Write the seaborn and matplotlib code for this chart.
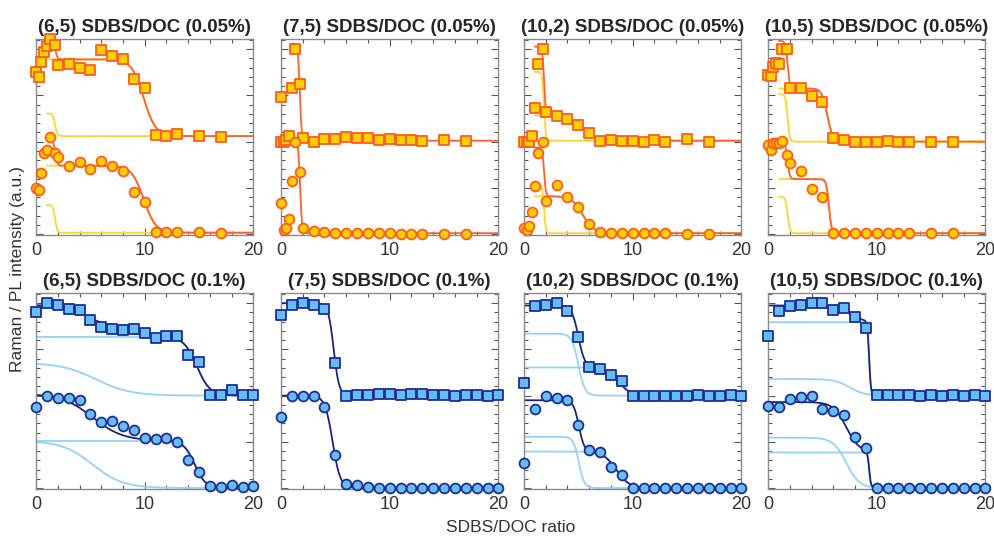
import numpy as np
import pandas as pd
import matplotlib
matplotlib.use("Agg")
import matplotlib.pyplot as plt
import seaborn as sns
from matplotlib.ticker import MultipleLocator

# ---- data ----
titles_top = ["(6,5) SDBS/DOC (0.05%)", "(7,5) SDBS/DOC (0.05%)",
              "(10,2) SDBS/DOC (0.05%)", "(10,5) SDBS/DOC (0.05%)"]
titles_bottom = ["(6,5) SDBS/DOC (0.1%)", "(7,5) SDBS/DOC (0.1%)",
                 "(10,2) SDBS/DOC (0.1%)", "(10,5) SDBS/DOC (0.1%)"]

x_low = [0, 0.25, 0.5, 0.75, 1, 1.25, 1.75, 2, 3, 4, 5, 6, 7, 8, 9, 10, 11, 12, 13, 15, 17]
x_low_extra = [0, 0, 0.25, 0.5, 0.75, 1, 1.25, 1.75, 2, 3, 4, 5, 6, 7, 8, 9, 10, 11, 12, 13, 15, 17]
x_high = list(range(21))

# 0.05 % : squares (Raman, offset by 2) and circles (PL)
sq_65_low = [3.51, 3.40, 3.73, 3.94, 4.06, 4.21, 4.10, 3.65, 3.69, 3.59, 3.56, 3.99, 3.85, 3.78,
             3.35, 3.17, 2.14, 2.12, 2.17, 2.12, 2.11]
ci_65_low = [0.99, 0.96, 1.33, 1.75, 1.82, 2.11, 1.75, 1.66, 1.48, 1.55, 1.40, 1.59, 1.48, 1.37,
             0.90, 0.69, 0.04, 0.04, 0.04, 0.04, 0.03]
sq_75_low = [2.97, 2.00, 2.00, 2.04, 2.12, 3.17, 4.01, 3.24, 2.08, 2.00, 2.06, 2.05, 2.09, 2.07,
             2.07, 2.03, 2.05, 2.03, 2.03, 2.01, 2.03, 2.01]
ci_75_low = [0.68, 0.09, 0.13, 0.32, 1.14, 2.00, 1.35, 0.14, 0.07, 0.04, 0.02, 0.03, 0.03, 0.02,
             0.02, 0.02, 0.01, 0.01, 0.01, 0.01, 0.01]
sq_102_low = [2.00, 2.00, 2.00, 2.12, 2.73, 3.69, 4.01, 2.65, 2.56, 2.49, 2.36, 2.19, 2.02, 2.04,
              2.01, 2.02, 2.00, 2.04, 2.00, 2.06, 2.00]
ci_102_low = [0.13, 0.09, 0.17, 0.47, 1.04, 1.76, 2.00, 0.71, 1.06, 0.80, 0.58, 0.22, 0.04, 0.02,
              0.02, 0.02, 0.02, 0.02, 0.02, 0.01, 0.01]
sq_105_low = [3.44, 3.42, 3.62, 3.71, 3.69, 4.00, 4.01, 3.17, 3.15, 2.99, 2.85, 2.07, 2.04, 2.00,
              2.00, 2.00, 2.02, 2.00, 2.00, 2.00, 2.00]
ci_105_low = [1.93, 1.82, 1.98, 1.96, 1.96, 2.01, 1.71, 1.53, 1.37, 0.97, 0.80, 0.02, 0.02, 0.02,
              0.02, 0.02, 0.02, 0.02, 0.02, 0.02, 0.02]

# 0.1 %
sq_65_high = [3.81, 4.00, 3.95, 3.88, 3.86, 3.63, 3.49, 3.45, 3.43, 3.44, 3.36, 3.24, 3.30, 3.29,
              2.88, 2.72, 2.01, 2.01, 2.13, 2.01, 2.01]
ci_65_high = [1.75, 2.00, 1.95, 1.95, 1.91, 1.61, 1.43, 1.46, 1.34, 1.26, 1.09, 1.07, 1.09, 0.99,
              0.61, 0.34, 0.04, 0.02, 0.06, 0.02, 0.04]
sq_75_high = [3.75, 3.96, 4.00, 3.96, 3.88, 2.70, 2.00, 2.01, 2.01, 2.04, 2.04, 2.02, 2.04, 2.04,
              2.02, 2.02, 2.00, 2.01, 2.01, 2.00, 2.01]
ci_75_high = [1.54, 1.99, 1.99, 2.00, 1.75, 0.71, 0.09, 0.06, 0.02, 0.01, 0.01, 0.01, 0.01, 0.01,
              0.01, 0.01, 0.01, 0.01, 0.01, 0.01, 0.01]
sq_102_high = [2.27, 3.93, 3.96, 4.00, 3.83, 3.26, 2.61, 2.57, 2.44, 2.31, 2.00, 2.00, 2.00, 2.00,
               2.00, 2.00, 2.01, 2.00, 2.00, 2.01, 2.00]
ci_102_high = [0.54, 1.72, 2.00, 1.95, 1.90, 1.36, 0.82, 0.77, 0.45, 0.29, 0.00, 0.00, 0.00, 0.00,
               0.00, 0.00, 0.00, 0.00, 0.00, 0.00, 0.00]
sq_105_high = [3.29, 3.84, 3.94, 3.96, 4.00, 4.00, 3.86, 3.90, 3.70, 3.47, 2.01, 2.01, 2.01, 2.01,
               2.00, 2.01, 2.00, 2.01, 2.00, 2.01, 2.00]
ci_105_high = [1.77, 1.75, 1.93, 1.96, 2.00, 1.72, 1.66, 1.59, 1.11, 0.86, 0.00, 0.00, 0.00, 0.00,
               0.00, 0.00, 0.00, 0.00, 0.00, 0.00, 0.00]

# fit parameters: baseline, then (amplitude, centre, width) per component
fit_sq_65_low = [2.12, (0.49, 1.75, 0.10), (1.66, 9.9, 0.55)]
fit_ci_65_low = [0.03, (0.60, 1.75, 0.10), (1.45, 9.9, 0.55)]
fit_sq_75_low = [2.02, (2.10, 1.73, 0.085)]
fit_ci_75_low = [0.02, (2.00, 1.76, 0.085)]
fit_sq_102_low = [2.02, (1.49, 1.85, 0.08), (0.55, 5.2, 0.80)]
fit_ci_102_low = [0.02, (1.05, 1.85, 0.08), (0.80, 5.4, 0.50)]
fit_sq_105_low = [2.00, (1.03, 1.80, 0.10), (1.15, 5.45, 0.25)]
fit_ci_105_low = [0.02, (0.79, 1.80, 0.10), (1.17, 5.6, 0.12)]

fit_sq_65_high = [2.00, (1.27, 14.8, 0.6), (0.71, 5.5, 1.6)]
fit_ci_65_high = [0.00, (1.02, 14.6, 0.5), (1.02, 5.2, 1.4)]
fit_sq_75_high = [2.00, (2.00, 4.85, 0.25)]
fit_ci_75_high = [0.00, (2.00, 4.75, 0.35)]
fit_sq_102_high = [2.00, (1.34, 5.0, 0.30), (0.61, 8.7, 0.55)]
fit_ci_102_high = [0.00, (1.11, 5.05, 0.25), (0.79, 8.5, 0.60)]
fit_sq_105_high = [2.00, (1.59, 9.3, 0.08), (0.36, 7.5, 0.70)]
fit_ci_105_high = [0.00, (0.77, 9.3, 0.08), (1.09, 7.2, 0.60)]

top_panels = [
    (x_low, sq_65_low, x_low, ci_65_low, fit_sq_65_low, fit_ci_65_low),
    (x_low_extra, sq_75_low, x_low, ci_75_low, fit_sq_75_low, fit_ci_75_low),
    (x_low, sq_102_low, x_low, ci_102_low, fit_sq_102_low, fit_ci_102_low),
    (x_low, sq_105_low, x_low, ci_105_low, fit_sq_105_low, fit_ci_105_low),
]
bottom_panels = [
    (x_high, sq_65_high, x_high, ci_65_high, fit_sq_65_high, fit_ci_65_high),
    (x_high, sq_75_high, x_high, ci_75_high, fit_sq_75_high, fit_ci_75_high),
    (x_high, sq_102_high, x_high, ci_102_high, fit_sq_102_high, fit_ci_102_high),
    (x_high, sq_105_high, x_high, ci_105_high, fit_sq_105_high, fit_ci_105_high),
]

top_style = dict(face="#FFD000", edge="#FF5A1F", fit="#FF6030", comp="#FFD530", x0=1.0)
bottom_style = dict(face="#63BEF2", edge="#1F2C99", fit="#1B2580", comp="#95D3F6", x0=0.0)


def boltz(x, a, c, w):
    return a / (1.0 + np.exp((x - c) / w))


sns.set_style("ticks")
plt.rcParams["font.family"] = ["Liberation Sans", "DejaVu Sans"]

fig = plt.figure(figsize=(9.95, 5.39), dpi=100)

lefts = [0.0362, 0.2824, 0.5266, 0.7719]
width = 0.2185
rows = [(0.564, top_panels, titles_top, top_style),
        (0.0928, bottom_panels, titles_bottom, bottom_style)]

for bottom, panels, titles, st in rows:
    for left, panel, title in zip(lefts, panels, titles):
        ax = fig.add_axes([left, bottom, width, 0.3636])
        xs_sq, ys_sq, xs_ci, ys_ci, fit_sq, fit_ci = panel
        xf = np.linspace(st["x0"], 20, 500)
        for fit in (fit_sq, fit_ci):
            base, comps = fit[0], fit[1:]
            total = base + sum(boltz(xf, *p) for p in comps)
            if len(comps) > 1:
                for p in comps:
                    sns.lineplot(x=xf, y=base + boltz(xf, *p), ax=ax, color=st["comp"],
                                 lw=1.3, sort=False, estimator=None, zorder=1)
            sns.lineplot(x=xf, y=total, ax=ax, color=st["fit"], lw=1.3,
                         sort=False, estimator=None, zorder=2)
        df_sq = pd.DataFrame({"ratio": xs_sq, "val": ys_sq})
        df_ci = pd.DataFrame({"ratio": xs_ci, "val": ys_ci})
        sns.scatterplot(data=df_sq, x="ratio", y="val", ax=ax, marker="s", s=50,
                        color=st["face"], edgecolor=st["edge"], linewidth=1.3,
                        zorder=3, clip_on=False)
        sns.scatterplot(data=df_ci, x="ratio", y="val", ax=ax, marker="o", s=50,
                        color=st["face"], edgecolor=st["edge"], linewidth=1.3,
                        zorder=3, clip_on=False)
        ax.set_xlim(0, 20)
        ax.set_ylim(-0.02, 4.22)
        ax.set_xlabel("")
        ax.set_ylabel("")
        ax.xaxis.set_major_locator(MultipleLocator(10))
        ax.xaxis.set_minor_locator(MultipleLocator(2))
        ax.yaxis.set_major_locator(MultipleLocator(1))
        ax.yaxis.set_minor_locator(MultipleLocator(0.2))
        ax.tick_params(which="both", direction="in", top=True, right=True,
                       color="#555555", width=0.8)
        ax.tick_params(which="major", length=5)
        ax.tick_params(which="minor", length=3)
        ax.tick_params(axis="x", labelsize=13, labelcolor="#333333", pad=5)
        ax.set_yticklabels([])
        for sp in ax.spines.values():
            sp.set_color("#8a8a8a")
            sp.set_linewidth(1.0)
        ax.set_title(title, fontsize=13.5, fontweight="bold", pad=5)

fig.text(0.018, 0.5, "Raman / PL intensity (a.u.)", rotation=90, ha="center",
         va="center", fontsize=12.5, color="#333333")
fig.text(0.513, 0.022, "SDBS/DOC ratio", ha="center", va="center",
         fontsize=12.5, color="#333333")

fig.savefig("out.png", dpi=100)
